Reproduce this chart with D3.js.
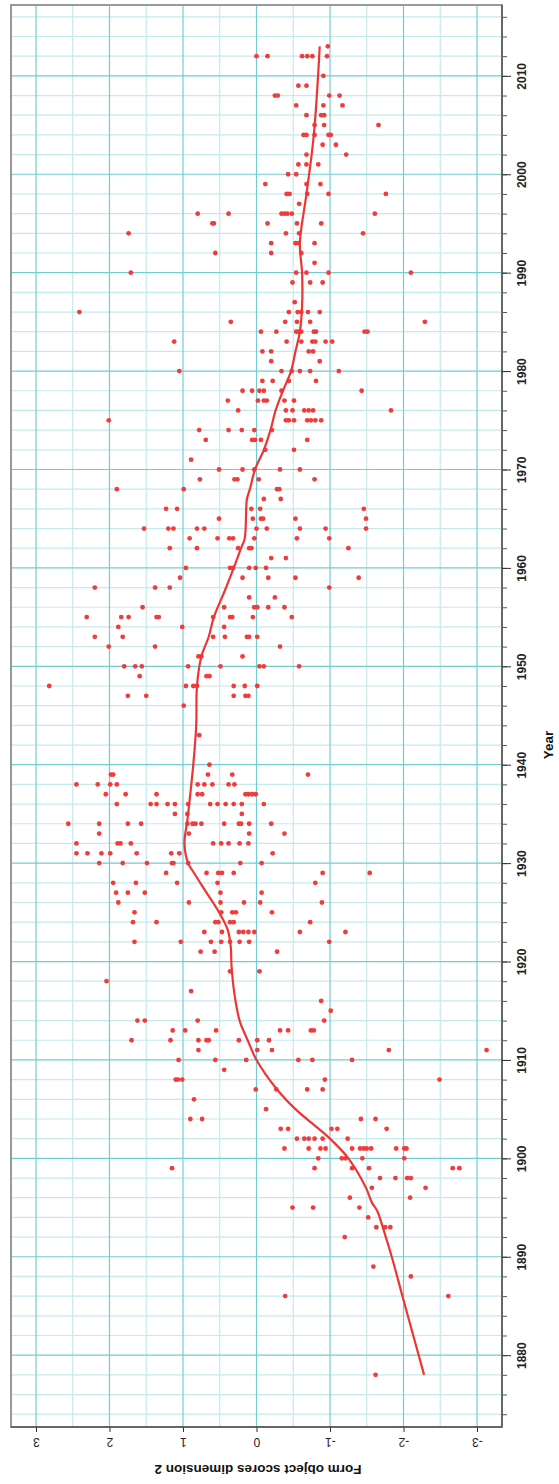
<!DOCTYPE html>
<html><head><meta charset="utf-8">
<script src="https://cdn.jsdelivr.net/npm/d3@7"></script>
<style>body{margin:0;background:#fff}</style>
</head><body><svg id="c" width="559" height="1484"></svg>
<script>
const yearTicks = [1880,1890,1900,1910,1920,1930,1940,1950,1960,1970,1980,1990,2000,2010];
const scoreTicks = [3,2,1,0,-1,-2,-3];
const xTitle = "Year";
const yTitle = "Form object scores dimension 2";

const pointYears = [2013,2012,2010,2009,2008,2007,2006,2005,2004,2003,2002,2001,2000,1999,1998,1997,1996,1995,1994,1993,1992,1991,1990,1989,1987,1986,1985,1984,1983,1982,1981,1980,1979,1978,1977,1976,1975,1974,1973,1972,1971,1970,1969,1968,1967,1966,1965,1964,1963,1962,1961,1960,1959,1958,1957,1956,1955,1954,1953,1952,1951,1950,1949,1948,1947,1946,1943,1940,1939,1938,1937,1936,1935,1934,1933,1932,1931,1930,1929,1928,1927,1926,1925,1924,1923,1922,1921,1919,1918,1917,1916,1915,1914,1913,1912,1911,1910,1909,1908,1907,1906,1905,1904,1903,1902,1901,1900,1899,1898,1897,1896,1895,1894,1893,1892,1889,1888,1886,1878];
const pointScores = [
 [-0.97],
 [0.0,-0.15,-0.62,-0.69,-0.76,-0.96],
 [-0.91],
 [-0.57,-0.68],
 [-0.25,-0.29,-0.99,-1.13],
 [-0.54,-0.91,-1.17],
 [-0.68,-0.88,-0.92],
 [-0.79,-0.92,-1.66],
 [-0.64,-0.68,-0.79,-0.98,-1.01],
 [-0.90,-1.08],
 [-0.68,-1.22],
 [-0.57,-0.68,-0.84],
 [-0.43,-0.54],
 [-0.12,-0.68,-0.87],
 [-0.41,-0.45,-0.69,-0.98,-1.76],
 [-0.58],
 [0.80,0.38,-0.34,-0.38,-0.42,-0.48,-1.61],
 [0.60,0.58,-0.15,-0.55,-0.88],
 [1.74,-0.40,-0.58,-1.45],
 [-0.20,-0.53,-0.57,-0.79],
 [0.56,-0.20,-0.61],
 [-0.79],
 [1.71,-0.54,-0.68,-0.98,-2.10],
 [-0.49,-0.73,-0.90],
 [-0.52],
 [2.41,-0.44,-0.56,-0.61,-0.70,-0.86],
 [0.35,-0.39,-0.55,-0.73,-2.29],
 [-0.06,-0.27,-0.54,-0.57,-0.61,-0.78,-0.81,-1.47,-1.51],
 [1.12,-0.41,-0.61,-0.76,-0.80,-0.94,-1.03],
 [-0.08,-0.20,-0.71,-0.77],
 [-0.20,-0.86],
 [1.05,-0.34,-0.48,-0.59,-0.73,-1.12],
 [-0.08,-0.22,-0.44,-0.81],
 [0.19,0.06,-0.04,-0.10,-0.34,-1.43],
 [0.39,-0.02,-0.10,-0.14,-0.38,-0.51],
 [0.25,-0.40,-0.49,-0.65,-0.71,-0.77,-1.83],
 [2.01,-0.40,-0.44,-0.51,-0.69,-0.74,-0.80,-0.88],
 [0.78,0.38,0.20,0.03,-0.21],
 [0.69,0.06,0.02,-0.06,-0.69],
 [-0.12,-0.51],
 [0.89],
 [0.51,0.19,0.03,-0.32,-0.59],
 [0.77,0.30,0.26,-0.03,-0.79],
 [1.90,0.99,-0.28,-0.31],
 [-0.10,-0.33],
 [1.23,1.08,0.07,-0.05,-1.46],
 [0.51,0.05,-0.06,-0.09,-0.53,-1.49],
 [1.53,1.20,1.13,0.81,0.71,0.0,-0.14,-0.59,-0.94,-1.49],
 [0.91,0.53,0.37,0.32,0.03,-0.55,-0.99],
 [1.18,0.81,0.25,0.10,0.07,-1.25],
 [-0.20,-0.40],
 [0.96,0.36,0.32,0.10,0.01,-0.13],
 [1.04,0.19,-0.16,-0.53,-1.39],
 [2.20,1.38,1.18,-0.99],
 [0.10,-0.25],
 [1.55,0.44,0.03,-0.01,-0.16,-0.38],
 [2.31,1.84,1.74,1.36,1.33,0.59,0.36,0.33,0.05,-0.48],
 [1.88,1.01,0.44],
 [2.20,1.82,0.59,0.43,0.13,0.10,-0.01],
 [2.01,1.38,-0.32],
 [0.79,0.75,0.19],
 [1.80,1.65,1.56,0.93,0.49,-0.04,-0.10,-0.58],
 [1.59,0.68,0.64],
 [2.82,0.96,0.86,0.81,0.31,0.16,-0.01],
 [1.75,1.50,0.31,0.15,0.11],
 [0.99],
 [0.78],
 [0.64],
 [1.98,1.95,0.66,0.33,-0.70],
 [2.45,2.16,1.99,1.90,0.80,0.71,0.60,0.38,0.30],
 [2.05,1.78,1.36,0.80,0.74,0.15,0.11,0.06,0.01],
 [1.90,1.44,1.36,1.21,1.11,0.93,0.63,0.53,0.42,0.31,0.20,-0.10],
 [1.11,0.94,0.20],
 [2.56,2.14,1.75,1.57,0.94,0.87,0.83,0.75,0.44,0.24,0.21,0.10,-0.20],
 [2.14,0.92,0.10,-0.38],
 [2.45,1.89,1.85,1.71,0.59,0.48,0.38,0.23,0.11],
 [2.45,2.30,2.11,1.99,1.63,1.16,1.05,-0.22],
 [2.14,1.82,1.49,1.15,1.13,0.93,0.22,-0.07],
 [1.23,0.68,0.52,0.47,0.31,-0.90,-1.54],
 [1.95,1.64,1.08,0.53,-0.80],
 [1.91,1.75,1.52,0.49,-0.07],
 [1.88,0.92,0.49,0.17,-0.05,-0.89],
 [1.66,0.48,0.33,0.28,-0.21],
 [1.68,1.36,0.56,0.52,0.36,0.31,-0.73],
 [0.71,0.47,0.24,0.18,0.11,0.03,-0.59,-1.21],
 [1.66,1.03,0.62,0.48,0.36,0.23,0.10,-0.99],
 [0.76,0.57,-0.28],
 [0.36,-0.04],
 [2.04],
 [0.89],
 [-0.88],
 [-1.01],
 [1.62,1.52,0.80,-0.92],
 [1.14,0.97,0.55,-0.32,-0.43,-0.74,-0.78],
 [1.70,1.17,0.79,0.68,0.65,0.24,-0.01,-0.17],
 [0.79,-0.01,-0.21,-1.80,-3.13],
 [1.06,0.56,0.14,-0.57,-0.76,-1.30],
 [0.44],
 [1.10,1.07,1.01,-0.93,-2.49],
 [0.01,-0.27,-0.69,-0.90],
 [0.85],
 [-0.13],
 [0.90,0.74,-1.42,-1.62],
 [-0.33,-0.43,-1.02,-1.10,-1.77],
 [-0.55,-0.65,-0.71,-0.79,-0.90,-1.24],
 [-0.38,-0.71,-0.87,-0.94,-1.30,-1.41,-1.46,-1.50,-1.56,-1.90,-2.01,-2.04],
 [-0.84,-1.16,-1.21,-1.44,-2.01],
 [1.15,-0.79,-1.30,-1.53,-2.67,-2.76],
 [-1.68,-1.89,-2.05,-2.10],
 [-1.57,-2.30],
 [-1.27,-2.09],
 [-0.49,-0.77,-1.40],
 [-1.52],
 [-1.63,-1.75,-1.82],
 [-1.20],
 [-1.59],
 [-2.10],
 [-0.39,-2.61],
 [-1.62]
];

const smoothYears  = [2013,2004,1998,1993,1990,1986.6,1984,1982,1980,1978,1976,1974,1972,1970,1968,1967,1963,1962,1960,1957.7,1955,1953,1951,1948,1944,1940,1934.4,1932,1930,1929,1927,1925,1923.2,1921.5,1919.6,1916.7,1914,1912,1910,1907,1905,1902,1900,1897,1895.5,1894.7,1892.7,1890,1885.6,1878];
const smoothScores = [-0.86,-0.78,-0.68,-0.59,-0.62,-0.62,-0.59,-0.53,-0.47,-0.36,-0.26,-0.19,-0.10,0.02,0.09,0.13,0.16,0.21,0.31,0.43,0.58,0.65,0.75,0.81,0.82,0.86,0.94,0.98,0.93,0.85,0.68,0.51,0.39,0.35,0.34,0.30,0.23,0.12,0.0,-0.28,-0.53,-1.0,-1.25,-1.49,-1.57,-1.64,-1.73,-1.84,-2.0,-2.28];

const svg = d3.select('#c');
const L = 11, R = 502, T = 5, B = 1427;
const x = d3.scaleLinear().domain([3.34, -3.34]).range([L, R]);
const y = d3.scaleLinear().domain([1872.7, 2017.2]).range([B, T]);

const font = "'Liberation Sans', Arial, sans-serif";
const minorC = "#c4eaec", majorC = "#72cdd1";

// gridlines
const g = svg.append('g');
const halfScores = d3.range(-3, 3.001, 0.5);
const evenYears = d3.range(1874, 2017, 2);
g.selectAll('.vmin').data(halfScores.filter(d => !Number.isInteger(d))).join('line')
  .attr('x1', d => x(d)).attr('x2', d => x(d)).attr('y1', T).attr('y2', B)
  .attr('stroke', minorC).attr('stroke-width', 1.2);
g.selectAll('.hmin').data(evenYears.filter(d => d % 10 !== 0)).join('line')
  .attr('y1', d => y(d)).attr('y2', d => y(d)).attr('x1', L).attr('x2', R)
  .attr('stroke', minorC).attr('stroke-width', 1.2);
g.selectAll('.vmaj').data(scoreTicks).join('line')
  .attr('x1', d => x(d)).attr('x2', d => x(d)).attr('y1', T).attr('y2', B)
  .attr('stroke', majorC).attr('stroke-width', 1.2);
g.selectAll('.hmaj').data(yearTicks).join('line')
  .attr('y1', d => y(d)).attr('y2', d => y(d)).attr('x1', L).attr('x2', R)
  .attr('stroke', majorC).attr('stroke-width', 1.2);

// frame
svg.append('rect').attr('x', L).attr('y', T).attr('width', R - L).attr('height', B - T)
  .attr('fill', 'none').attr('stroke', '#999').attr('stroke-width', 2);

// points
const pts = [];
pointYears.forEach((yr, i) => pointScores[i].forEach(s => pts.push([yr, s])));
svg.append('g').selectAll('circle').data(pts).join('circle')
  .attr('cx', d => x(d[1])).attr('cy', d => y(d[0])).attr('r', 2.4)
  .attr('fill', '#f03c3c');

// smooth line
const lineData = smoothYears.map((yr, i) => [yr, smoothScores[i]]);
svg.append('path').datum(lineData)
  .attr('d', d3.line().x(d => x(d[1])).y(d => y(d[0])).curve(d3.curveCatmullRom.alpha(0.5)))
  .attr('fill', 'none').attr('stroke', '#ee3535').attr('stroke-width', 2.2);

// right (year) axis
const yMinor = svg.append('g').attr('transform', `translate(${R},0)`)
  .call(d3.axisRight(y).tickValues(evenYears).tickSize(5).tickFormat(''));
yMinor.select('.domain').remove();
yMinor.selectAll('line').attr('stroke', '#555');
const yAx = svg.append('g').attr('transform', `translate(${R},0)`)
  .call(d3.axisRight(y).tickValues(yearTicks).tickSize(9).tickFormat(d => String(d)));
yAx.select('.domain').attr('d', `M0,${T}V${B}`).attr('stroke', '#666').attr('stroke-width', 2);
yAx.selectAll('.tick line').attr('stroke', '#333');
yAx.selectAll('text').attr('x', null).attr('dy', '0.35em')
  .attr('transform', 'translate(20,0) rotate(-90)').attr('text-anchor', 'middle')
  .attr('font-family', font).attr('font-size', 12).attr('font-weight', 'bold').attr('fill', '#222');

// bottom (score) axis
const xAx = svg.append('g').attr('transform', `translate(0,${B})`)
  .call(d3.axisBottom(x).tickValues(scoreTicks).tickSize(5).tickFormat(d => String(d)));
xAx.select('.domain').attr('d', `M${L},0H${R}`).attr('stroke', '#666').attr('stroke-width', 2);
xAx.selectAll('.tick line').attr('stroke', '#333');
xAx.selectAll('text').attr('y', null).attr('dy', '0.35em')
  .attr('transform', 'translate(0,15) rotate(180)').attr('text-anchor', 'middle')
  .attr('font-family', font).attr('font-size', 12).attr('fill', '#222');

// titles
svg.append('text').attr('transform', 'translate(258,1470) rotate(180)')
  .attr('text-anchor', 'middle').attr('dy', '0.35em')
  .attr('font-family', font).attr('font-size', 13.5).attr('font-weight', 'bold').attr('fill', '#111')
  .text(yTitle);
svg.append('text').attr('transform', 'translate(548,745) rotate(-90)')
  .attr('text-anchor', 'middle').attr('dy', '0.35em')
  .attr('font-family', font).attr('font-size', 13.5).attr('font-weight', 'bold').attr('fill', '#111')
  .text(xTitle);
</script></body></html>
